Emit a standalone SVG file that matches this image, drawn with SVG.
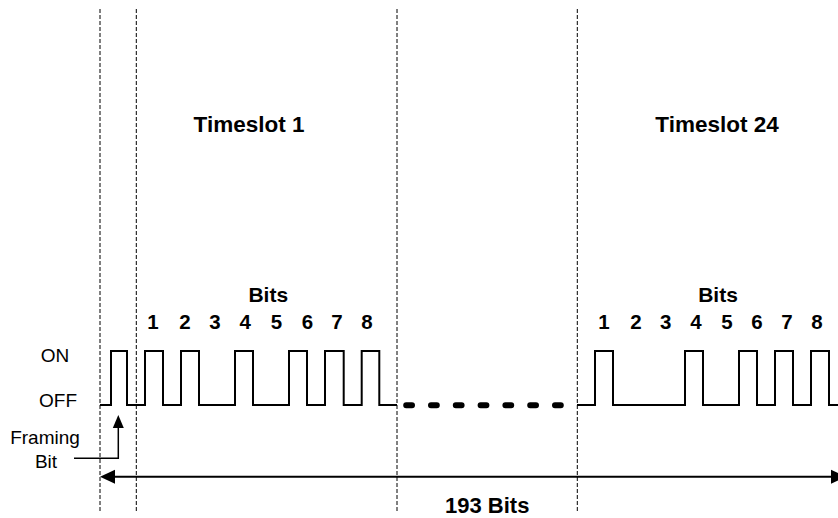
<svg xmlns="http://www.w3.org/2000/svg" width="838" height="518" viewBox="0 0 838 518">
<style>
.grid{stroke:#000;stroke-width:1;stroke-dasharray:4 2;fill:none}
.wave{stroke:#000;stroke-width:2;fill:none;stroke-linejoin:miter}
.b{font-family:"Liberation Sans",Arial,sans-serif;font-weight:bold;fill:#000;text-anchor:middle}
.r{font-family:"Liberation Sans",Arial,sans-serif;fill:#000;text-anchor:middle;font-size:19px}
.d{font-size:20.5px}
</style>
<rect width="838" height="518" fill="#fff"/>
<g id="gridlines">
<line class="grid" x1="100" y1="9" x2="100" y2="513"/>
<line class="grid" x1="136.3" y1="9" x2="136.3" y2="513"/>
<line class="grid" x1="397" y1="9" x2="397" y2="513"/>
<line class="grid" x1="577.3" y1="9" x2="577.3" y2="513"/>
</g>
<g id="labels">
<text class="b" x="249" y="131.5" font-size="22.5">Timeslot 1</text>
<text class="b" x="717" y="131.5" font-size="22.5">Timeslot 24</text>
<text class="b" x="268.3" y="301.5" font-size="21">Bits</text>
<text class="b" x="718" y="301.5" font-size="21">Bits</text>
<g class="b d">
<text x="153" y="329.3">1</text><text x="185" y="329.3">2</text><text x="215" y="329.3">3</text><text x="245.3" y="329.3">4</text><text x="276.5" y="329.3">5</text><text x="307.5" y="329.3">6</text><text x="337" y="329.3">7</text><text x="367" y="329.3">8</text>
<text x="604" y="329.3">1</text><text x="636" y="329.3">2</text><text x="665.8" y="329.3">3</text><text x="696" y="329.3">4</text><text x="727" y="329.3">5</text><text x="757" y="329.3">6</text><text x="787" y="329.3">7</text><text x="817" y="329.3">8</text>
</g>
<text class="r" x="55" y="361.7">ON</text>
<text class="r" x="58" y="406.7">OFF</text>
<text class="r" x="45" y="443.5">Framing</text>
<text class="r" x="46" y="468.3">Bit</text>
<text class="b" x="487.2" y="513" font-size="22">193 Bits</text>
</g>
<g id="waveform">
<path class="wave" d="M100,405 H111 V351 H127 V405 H145 V351 H163 V405 H181 V351 H199 V405 H235 V351 H253 V405 H289 V351 H307 V405 H325 V351 H343.7 V405 H361.7 V351 H379.3 V405 H397"/>
<path class="wave" d="M577,405 H595 V351 H613 V405 H685 V351 H703 V405 H739 V351 H757 V405 H775 V351 H793 V405 H811 V351 H829 V405 H840"/>
<line x1="406.2" y1="405.3" x2="561" y2="405.3" stroke="#000" stroke-width="6" stroke-linecap="round" stroke-dasharray="5.8 19"/>
</g>
<g id="connectors">
<polyline points="74,458.3 118.3,458.3 118.3,426" fill="none" stroke="#000" stroke-width="1.5"/>
<polygon points="118.3,415 112.8,428 123.8,428" fill="#000"/>
<line x1="112" y1="476.7" x2="834" y2="476.7" stroke="#000" stroke-width="2"/>
<polygon points="100,476.7 115,469.7 115,483.7" fill="#000"/>
<polygon points="846,476.7 831,469.7 831,483.7" fill="#000"/>
</g>
</svg>
